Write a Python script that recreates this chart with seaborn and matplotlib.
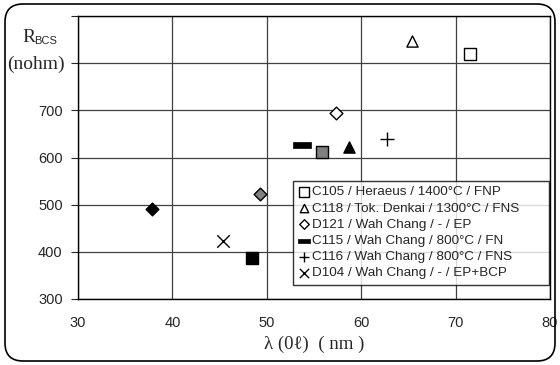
import numpy as np
import matplotlib
matplotlib.use('Agg')
import matplotlib.pyplot as plt
import matplotlib.transforms as mtransforms
from matplotlib.patches import FancyBboxPatch
import seaborn as sns

# series shown in the legend (open / line markers)
labels = ['C105 / Heraeus / 1400°C / FNP',
          'C118 / Tok. Denkai / 1300°C / FNS',
          'D121 / Wah Chang / - / EP',
          'C115 / Wah Chang / 800°C / FN',
          'C116 / Wah Chang / 800°C / FNS',
          'D104 / Wah Chang / - / EP+BCP']
lam = [71.5, 65.4, 57.3, 53.7, 62.7, 45.4]
rbcs = [820, 846, 695, 626, 639, 423]

# extra filled points without legend entry
lam_filled = [37.8, 49.3, 48.4, 55.8, 58.7]
rbcs_filled = [490, 522, 386, 612, 622]

xticks = [30, 40, 50, 60, 70, 80]
yticks = [300, 400, 500, 600, 700, 800, 900]

sns.set_style('white')
plt.rcParams['font.family'] = ['Liberation Sans', 'DejaVu Sans']
serif = ['Liberation Serif', 'DejaVu Serif']

fig = plt.figure(figsize=(5.6, 3.65), dpi=100)
ax = fig.add_axes([78/560, 66/365, 472/560, 283/365])

bar = [(-1.6, -0.5), (1.6, -0.5), (1.6, 0.5), (-1.6, 0.5), (-1.6, -0.5)]
styles = [dict(marker='s', s=80, color='white', edgecolor='black', linewidth=1),
          dict(marker='^', s=65, color='white', edgecolor='black', linewidth=1),
          dict(marker='D', s=42, color='white', edgecolor='black', linewidth=1),
          dict(marker=bar, s=150, color='black', edgecolor='black', linewidth=0.5),
          dict(marker='+', s=90, color='black', linewidth=1),
          dict(marker='x', s=80, color='black', linewidth=1)]
for x, y, lab, st in zip(lam, rbcs, labels, styles):
    sns.scatterplot(x=[x], y=[y], label=lab, ax=ax, zorder=3, **st)

fstyles = [dict(marker='D', s=42, color='black', edgecolor='black'),
           dict(marker='D', s=42, color='#808080', edgecolor='black'),
           dict(marker='s', s=80, color='black', edgecolor='black'),
           dict(marker='s', s=80, color='#808080', edgecolor='black'),
           dict(marker='^', s=65, color='black', edgecolor='black')]
for x, y, st in zip(lam_filled, rbcs_filled, fstyles):
    sns.scatterplot(x=[x], y=[y], ax=ax, legend=False, zorder=3, linewidth=1, **st)

ax.set_xlim(30, 80)
ax.set_ylim(300, 900)
ax.set_xticks(xticks)
ax.set_xticks(np.arange(30, 81, 2), minor=True)
ax.set_yticks(yticks)
ax.set_yticklabels([str(v) if v < 800 else '' for v in yticks])
ax.grid(True, color='#404040', linewidth=0.9)
for s in ax.spines.values():
    s.set_color('black')
    s.set_linewidth(1)
ax.tick_params(axis='x', which='both', direction='in', length=4, pad=12, labelsize=10.5)
ax.tick_params(axis='x', which='minor', length=3)
ax.tick_params(axis='y', direction='out', length=5, pad=6, labelsize=10.5, left=True)
ax.set_xlabel('λ (0ℓ)  ( nm )', fontsize=13.5, family=serif, labelpad=4)
ax.set_ylabel('')

fig.text(22/560, 1 - 38/365, 'R', fontsize=14, family=serif, ha='left', va='center')
fig.text(34/560, 1 - 41/365, 'BCS', fontsize=8, ha='left', va='center')
fig.text(36/560, 1 - 64/365, '(nohm)', fontsize=14, family=serif, ha='center', va='center')

leg = ax.legend(loc='lower left', bbox_to_anchor=(0.455, 0.05, 0.543, 0.36), mode='expand',
                borderaxespad=0, fontsize=9.7, frameon=True, fancybox=False,
                labelspacing=0.28, handletextpad=0.15, handlelength=0.9,
                borderpad=0.4, markerscale=0.75)
leg.get_frame().set_edgecolor('black')
leg.get_frame().set_linewidth(1)

frame = FancyBboxPatch((5, 4), 550, 357, boxstyle='round,pad=0,rounding_size=18',
                       transform=mtransforms.IdentityTransform(), fill=False,
                       edgecolor='black', linewidth=1.2)
fig.add_artist(frame)

fig.savefig('out.png', dpi=100, facecolor='white')
